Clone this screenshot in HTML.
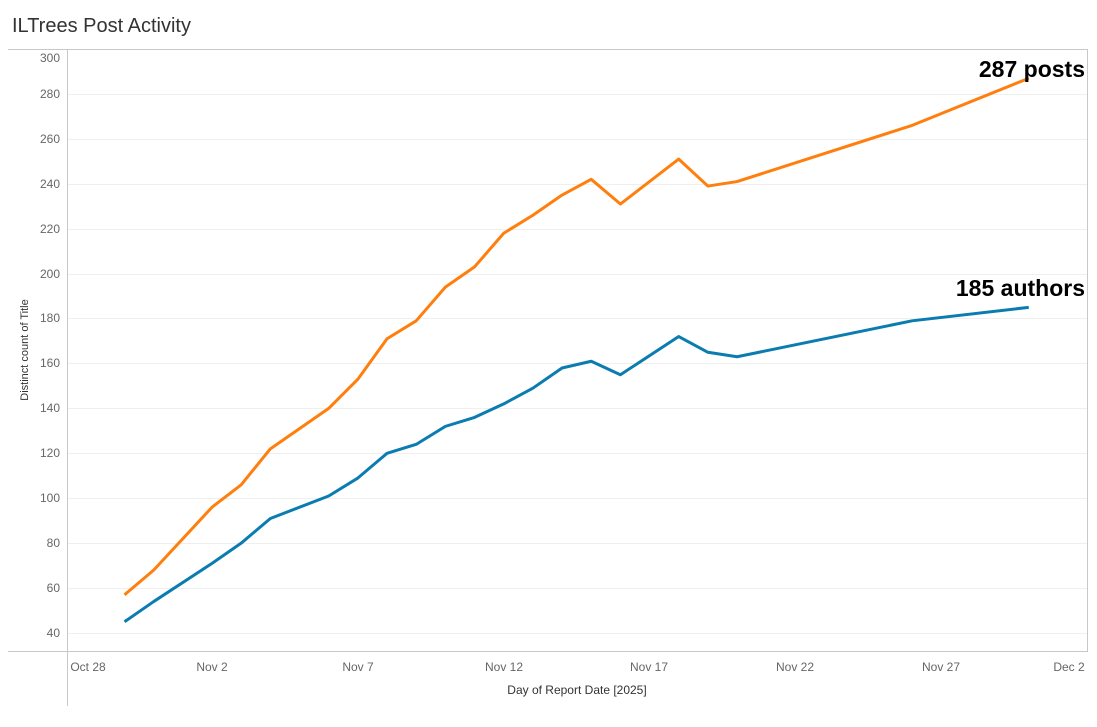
<!DOCTYPE html>
<html><head><meta charset="utf-8"><style>
body{margin:0;background:#fff;width:1097px;height:722px;overflow:hidden;font-family:"Liberation Sans",sans-serif}
</style></head><body>
<svg width="1097" height="722" xmlns="http://www.w3.org/2000/svg" font-family="Liberation Sans, sans-serif">
<text x="12" y="32" font-size="20" fill="#333">ILTrees Post Activity</text>
<g stroke="#efefef" stroke-width="1">
<line x1="67" x2="1087" y1="94.5" y2="94.5"/><line x1="67" x2="1087" y1="139.5" y2="139.5"/><line x1="67" x2="1087" y1="184.5" y2="184.5"/><line x1="67" x2="1087" y1="229.5" y2="229.5"/><line x1="67" x2="1087" y1="274.5" y2="274.5"/><line x1="67" x2="1087" y1="318.5" y2="318.5"/><line x1="67" x2="1087" y1="363.5" y2="363.5"/><line x1="67" x2="1087" y1="408.5" y2="408.5"/><line x1="67" x2="1087" y1="453.5" y2="453.5"/><line x1="67" x2="1087" y1="498.5" y2="498.5"/><line x1="67" x2="1087" y1="543.5" y2="543.5"/><line x1="67" x2="1087" y1="588.5" y2="588.5"/><line x1="67" x2="1087" y1="633.5" y2="633.5"/>
</g>
<g stroke="#c8c8c8" stroke-width="1" fill="none">
<line x1="8" x2="1088" y1="49.5" y2="49.5"/>
<line x1="1087.5" x2="1087.5" y1="49" y2="652"/>
<line x1="8" x2="1088" y1="651.5" y2="651.5"/>
<line x1="67.5" x2="67.5" y1="49" y2="706"/>
</g>
<g font-size="12" fill="#666" text-anchor="end">
<text x="60" y="62">300</text><text x="60" y="98">280</text><text x="60" y="143">260</text><text x="60" y="188">240</text><text x="60" y="233">220</text><text x="60" y="278">200</text><text x="60" y="322">180</text><text x="60" y="367">160</text><text x="60" y="412">140</text><text x="60" y="457">120</text><text x="60" y="502">100</text><text x="60" y="547">80</text><text x="60" y="592">60</text><text x="60" y="637">40</text>
</g>
<text transform="translate(28,350) rotate(-90)" font-size="11" fill="#333" text-anchor="middle">Distinct count of Title</text>
<g font-size="12" fill="#666" text-anchor="middle">
<text x="88" y="671">Oct 28</text><text x="212" y="671">Nov 2</text><text x="358" y="671">Nov 7</text><text x="504" y="671">Nov 12</text><text x="649" y="671">Nov 17</text><text x="795" y="671">Nov 22</text><text x="941" y="671">Nov 27</text><text x="1069" y="671">Dec 2</text>
</g>
<text x="577" y="694" font-size="12" fill="#333" text-anchor="middle">Day of Report Date [2025]</text>
<g transform="translate(212,722.85) scale(29.17,-2.246)" fill="none" stroke-linejoin="round">
<polyline vector-effect="non-scaling-stroke" stroke="#ff7f0e" stroke-width="3" points="-3,57 -2,68 0,96 1,106 2,122 4,140 5,153 6,171 7,179 8,194 9,203 10,218 11,226 12,235 13,242 14,231 16,251 17,239 18,241 24,266 28,287"/>
<polyline vector-effect="non-scaling-stroke" stroke="#0a7cb0" stroke-width="3" points="-3,45 -2,54 0,71 1,80 2,91 4,101 5,109 6,120 7,124 8,132 9,136 10,142 11,149 12,158 13,161 14,155 16,172 17,165 18,163 24,179 28,185"/>
</g>
<g font-size="23" font-weight="bold" fill="#000" text-anchor="end">
<text x="1085" y="77">287 posts</text>
<text x="1085" y="296">185 authors</text>
</g>
</svg>
</body></html>
